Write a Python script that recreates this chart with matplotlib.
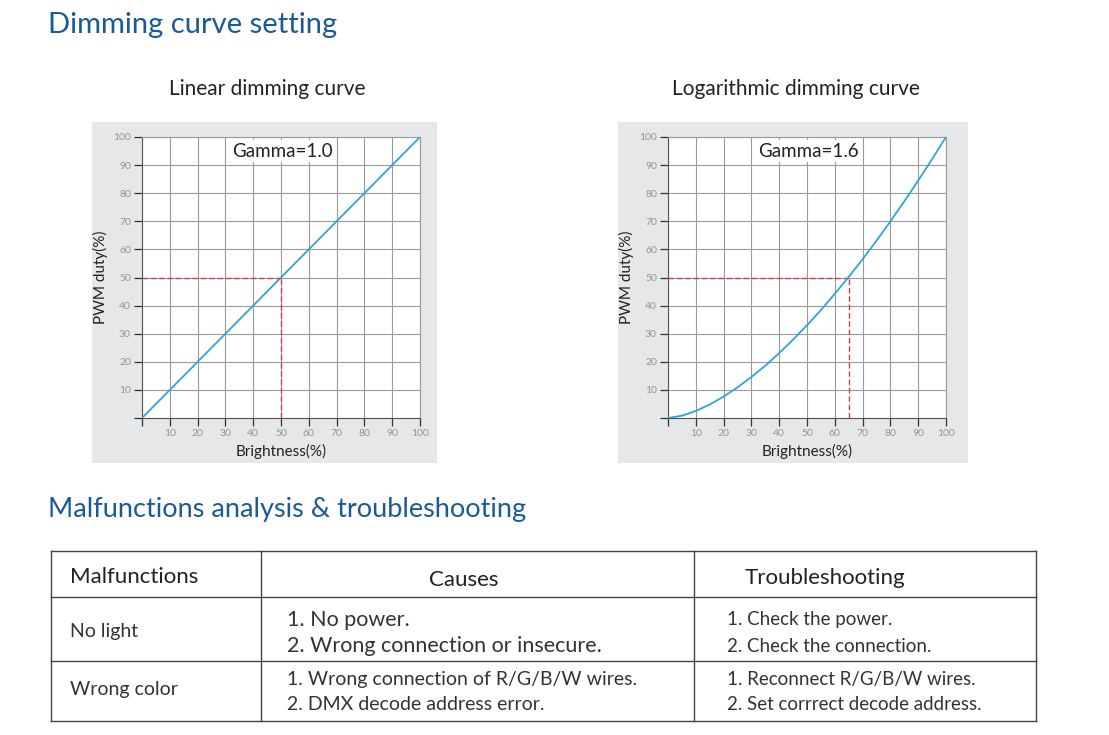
import matplotlib
matplotlib.use("Agg")
import matplotlib.pyplot as plt
from matplotlib.patches import Rectangle

plt.rcParams['font.family'] = ['Lato', 'DejaVu Sans']

# ==========================================
# DATA
# ==========================================
brightness = [0, 5, 10, 15, 20, 25, 30, 35, 40, 45, 50, 55, 60, 65, 70, 75, 80, 85, 90, 95, 100]
pwm_linear = [0, 5, 10, 15, 20, 25, 30, 35, 40, 45, 50, 55, 60, 65, 70, 75, 80, 85, 90, 95, 100]
pwm_log = [0, 0.8, 2.5, 4.8, 7.6, 10.9, 14.6, 18.6, 23.1, 27.9, 33.0, 38.4, 44.2,
           50.2, 56.5, 63.1, 70.0, 77.1, 84.5, 92.1, 100]

ref_linear = (50, 50)   # brightness, duty
ref_log = (65, 50)

tick_vals = [10, 20, 30, 40, 50, 60, 70, 80, 90, 100]

chart_titles = ["Linear dimming curve", "Logarithmic dimming curve"]
gamma_labels = ["Gamma=1.0", "Gamma=1.6"]

table_header = ["Malfunctions", "Causes", "Troubleshooting"]
malfunctions = ["No light", "Wrong color"]
causes = [["1. No power.", "2. Wrong connection or insecure."],
          ["1. Wrong connection of R/G/B/W wires.", "2. DMX decode address error."]]
fixes = [["1. Check the power.", "2. Check the connection."],
         ["1. Reconnect R/G/B/W wires.", "2. Set corrrect decode address."]]

# ==========================================
# LAYOUT (pixel based)
# ==========================================
W, H = 1109, 735
BLUE = '#1b5a98'
LINE = '#2fa3da'
RED = '#e03a42'
GREY_BG = '#e6e7e8'
TXT = '#222222'

fig = plt.figure(figsize=(W / 100, H / 100), dpi=100, facecolor='white')


def fig_rect(x0, y0, x1, y1):
    return [x0 / W, 1 - y1 / H, (x1 - x0) / W, (y1 - y0) / H]


# overlay axes in pixel coords for titles / boxes / table
ov = fig.add_axes([0, 0, 1, 1], zorder=0)
ov.set_xlim(0, W)
ov.set_ylim(H, 0)
ov.axis('off')

ov.text(48, 25, "Dimming curve setting", fontsize=21, color=BLUE, va='center', ha='left')
ov.text(48, 509, "Malfunctions analysis & troubleshooting", fontsize=19.5, color=BLUE,
        va='center', ha='left')

boxes = [(92, 122, 437, 463), (618, 122, 968, 463)]
axes_px = [(142, 137, 420, 418), (668, 137, 946, 418)]
curves = [pwm_linear, pwm_log]
refs = [ref_linear, ref_log]

for i in range(2):
    bx0, by0, bx1, by1 = boxes[i]
    ov.add_patch(Rectangle((bx0, by0), bx1 - bx0, by1 - by0, facecolor=GREY_BG,
                           edgecolor='none'))
    ov.text((bx0 + bx1) / 2 + 3, 89, chart_titles[i], fontsize=15, color=TXT,
            ha='center', va='center')

    ax = fig.add_axes(fig_rect(*axes_px[i]), zorder=2)
    ax.set_facecolor('white')
    ax.set_xlim(0, 100)
    ax.set_ylim(0, 100)
    ax.set_xticks([0] + tick_vals)
    ax.set_yticks([0] + tick_vals)
    ax.set_xticklabels([''] + [str(v) for v in tick_vals])
    ax.set_yticklabels([''] + [str(v) for v in tick_vals])
    ax.tick_params(axis='both', labelsize=7.5, labelcolor='#959595', color='#333333',
                   length=6, width=0.9, pad=2)
    ax.grid(True, color='#9a9a9a', linewidth=0.8)
    ax.set_axisbelow(True)
    for s in ax.spines.values():
        s.set_color('#9a9a9a')
        s.set_linewidth(0.8)
    ax.spines['left'].set_color('#555555')
    ax.spines['bottom'].set_color('#555555')

    rx, ry = refs[i]
    ax.plot([0, rx], [ry, ry], color=RED, linestyle=(0, (4, 2)), linewidth=1.0, zorder=3)
    ax.plot([rx, rx], [0, ry], color=RED, linestyle=(0, (4, 2)), linewidth=1.0, zorder=3)
    ax.plot(brightness, curves[i], color=LINE, linewidth=1.3, zorder=4)

    ax.text(32.5, 95, gamma_labels[i], fontsize=13.5, color=TXT, ha='left', va='center',
            zorder=5, bbox=dict(facecolor='white', edgecolor='none', pad=1.5))

    ax.set_xlabel("Brightness(%)", fontsize=11, color=TXT, labelpad=4)
    ax.set_ylabel("PWM duty(%)", fontsize=11, color=TXT, labelpad=4)

# ==========================================
# TABLE
# ==========================================
tx0, tx1 = 51, 1036
col_x = [tx0, 261, 694, tx1]
row_y = [551, 597, 661, 721]
lc = '#444444'
for x in col_x:
    ov.plot([x, x], [row_y[0], row_y[-1]], color=lc, linewidth=1.0)
for y in row_y:
    ov.plot([tx0, tx1], [y, y], color=lc, linewidth=1.0)

ov.text(70, 577, table_header[0], fontsize=16, color=TXT, ha='left', va='center')
ov.text(464, 580, table_header[1], fontsize=16, color=TXT, ha='center', va='center')
ov.text(825, 578, table_header[2], fontsize=16, color=TXT, ha='center', va='center')

row_mid = [632, 690]
line_y = [(620, 646), (679, 705)]
cause_size = [15.5, 14]
for r in range(2):
    ov.text(70, row_mid[r], malfunctions[r], fontsize=14, color='#333333',
            ha='left', va='center')
    for k in range(2):
        ov.text(287, line_y[r][k], causes[r][k], fontsize=cause_size[r], color='#333333',
                ha='left', va='center')
        ov.text(727, line_y[r][k], fixes[r][k], fontsize=13.5, color='#333333',
                ha='left', va='center')

fig.savefig("out.png", dpi=100, facecolor='white')
